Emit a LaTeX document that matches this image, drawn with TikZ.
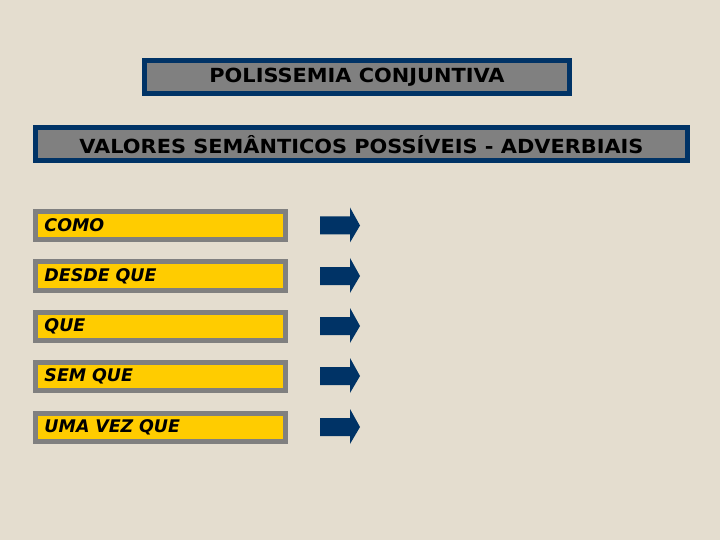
\documentclass[tikz,border=0pt]{standalone}
\usepackage{fontspec}
\setmainfont{DejaVu Sans}
\definecolor{bg}{RGB}{228,221,207}
\definecolor{navy}{RGB}{0,51,102}
\definecolor{boxgray}{RGB}{128,128,128}
\definecolor{gold}{RGB}{255,204,0}
\newcommand{\wide}[1]{\scalebox{1.075}[1]{#1}}
\begin{document}
\begin{tikzpicture}[x=1bp,y=-1bp,
  titlebox/.style={draw=navy,fill=boxgray,line width=5bp,inner sep=0pt,outer sep=0pt,minimum height=33bp,font=\bfseries\fontsize{19.5}{22}\selectfont},
  itembox/.style={draw=boxgray,fill=gold,line width=5bp,inner xsep=9bp,inner ysep=0pt,outer sep=0pt,minimum height=28bp,text width=232bp,align=left,font=\bfseries\itshape\fontsize{17.5}{20}\selectfont},
  arrowshape/.style={fill=navy}]
\fill[bg] (0,0) rectangle (720,540);
\useasboundingbox (0,0) rectangle (720,540);
\node[titlebox,minimum width=425bp] (t1) at (357,77.5) {\wide{POLISSEMIA CONJUNTIVA}};
\node[titlebox,minimum width=652bp] (t2) at (361.5,144.5) {\wide{VALORES SEM\^ANTICOS POSS\'IVEIS - ADVERBIAIS}};
\foreach \y/\txt/\n in {225.5/COMO/a,276/DESDE QUE/b,326/QUE/c,376/SEM QUE/d,427/UMA VEZ QUE/e}{
  \node[itembox] (item\n) at (160.5,\y) {\txt};
  \fill[arrowshape] (320,\y-9) -- (350,\y-9) -- (350,\y-18) -- (360,\y) -- (350,\y+17) -- (350,\y+9) -- (320,\y+9) -- cycle;
}
\end{tikzpicture}
\end{document}
